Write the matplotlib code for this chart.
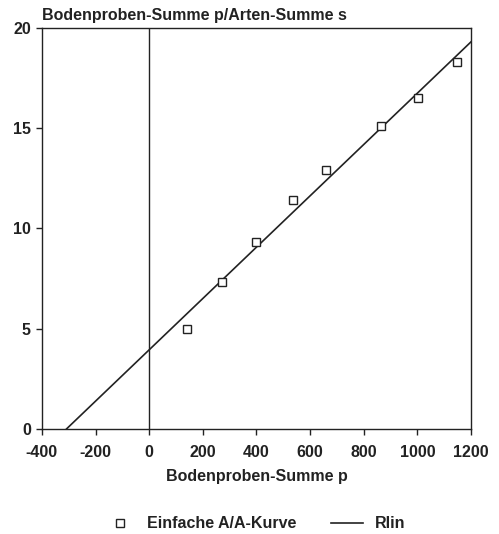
import matplotlib
matplotlib.use('Agg')
import matplotlib.pyplot as plt
import numpy as np

# Einfache A/A-Kurve: Bodenproben-Summe p gegen p/s
p_sum = [142, 270, 400, 538, 658, 864, 1002, 1148]
p_per_s = [5.0, 7.3, 9.3, 11.4, 12.9, 15.1, 16.5, 18.3]

# Regressionsgerade (Rlin)
rlin_intercept = 3.94
rlin_slope = 0.0128
rlin_range = [-308, 1200]

x_ticks = [-400, -200, 0, 200, 400, 600, 800, 1000, 1200]
y_ticks = [0, 5, 10, 15, 20]

plt.rcParams['font.family'] = ['Liberation Sans', 'DejaVu Sans']
plt.rcParams['font.weight'] = 'bold'
plt.rcParams['axes.unicode_minus'] = False
ink = '#222222'
fs = 11.5

fig = plt.figure(figsize=(4.99, 5.34), dpi=100)
ax = fig.add_axes([0.084, 0.197, 0.86, 0.751])

xl = np.array(rlin_range, dtype=float)
ax.plot(xl, rlin_intercept + rlin_slope * xl, color=ink, lw=1.2, label='Rlin')
ax.plot(p_sum, p_per_s, linestyle='none', marker='s', ms=6, mfc='white',
        mec=ink, mew=1.0, label='Einfache A/A-Kurve')
ax.axvline(0, color=ink, lw=1.0)

ax.set_xlim(-400, 1200)
ax.set_ylim(0, 20)
ax.set_xticks(x_ticks)
ax.set_yticks(y_ticks)
ax.tick_params(direction='out', length=4, width=1.0, color=ink,
               labelsize=fs, labelcolor=ink)
ax.tick_params(axis='x', pad=8)
ax.tick_params(axis='y', pad=4)
for s in ax.spines.values():
    s.set_color(ink)
    s.set_linewidth(1.0)

ax.set_xlabel('Bodenproben-Summe p', fontsize=fs, fontweight='bold', color=ink,
              labelpad=6)
ax.text(0.0, 1.012, 'Bodenproben-Summe p/Arten-Summe s', transform=ax.transAxes,
        ha='left', va='bottom', fontsize=fs, fontweight='bold', color=ink)

h, l = ax.get_legend_handles_labels()
fig.legend(h[::-1], l[::-1], loc='lower center', bbox_to_anchor=(0.51, -0.022),
           ncol=2, frameon=False, fontsize=fs, handlelength=2.0,
           handletextpad=0.7, columnspacing=2.2, labelcolor=ink)

fig.savefig('out.png', dpi=100)
